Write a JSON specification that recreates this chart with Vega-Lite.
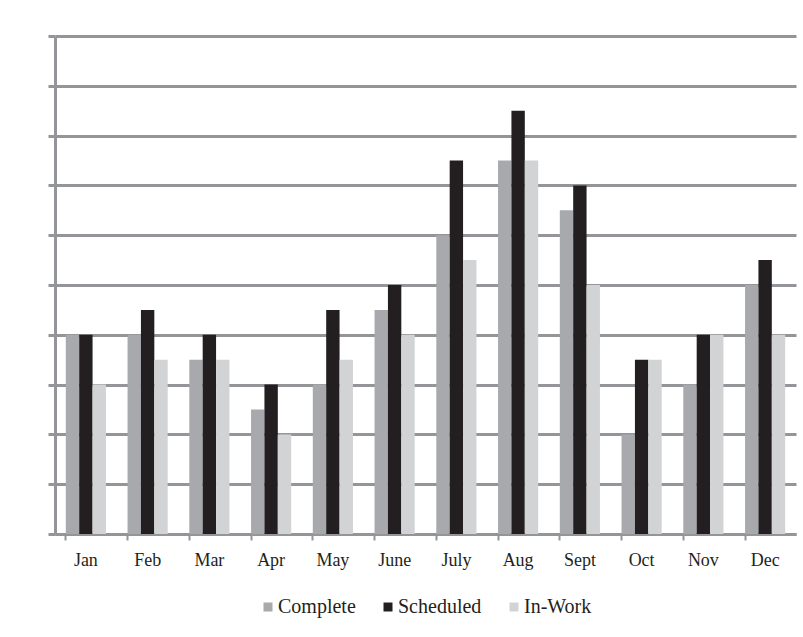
{
  "$schema": "https://vega.github.io/schema/vega-lite/v6.json",
  "width": 741,
  "height": 498,
  "autosize": {"type": "none"},
  "padding": {"left": 55, "top": 36, "right": 7, "bottom": 103},
  "background": "white",
  "data": {
    "values": [
      {"month": "Jan", "series": "Complete", "value": 4},
      {"month": "Jan", "series": "Scheduled", "value": 4},
      {"month": "Jan", "series": "In-Work", "value": 3},
      {"month": "Feb", "series": "Complete", "value": 4},
      {"month": "Feb", "series": "Scheduled", "value": 4.5},
      {"month": "Feb", "series": "In-Work", "value": 3.5},
      {"month": "Mar", "series": "Complete", "value": 3.5},
      {"month": "Mar", "series": "Scheduled", "value": 4},
      {"month": "Mar", "series": "In-Work", "value": 3.5},
      {"month": "Apr", "series": "Complete", "value": 2.5},
      {"month": "Apr", "series": "Scheduled", "value": 3},
      {"month": "Apr", "series": "In-Work", "value": 2},
      {"month": "May", "series": "Complete", "value": 3},
      {"month": "May", "series": "Scheduled", "value": 4.5},
      {"month": "May", "series": "In-Work", "value": 3.5},
      {"month": "June", "series": "Complete", "value": 4.5},
      {"month": "June", "series": "Scheduled", "value": 5},
      {"month": "June", "series": "In-Work", "value": 4},
      {"month": "July", "series": "Complete", "value": 6},
      {"month": "July", "series": "Scheduled", "value": 7.5},
      {"month": "July", "series": "In-Work", "value": 5.5},
      {"month": "Aug", "series": "Complete", "value": 7.5},
      {"month": "Aug", "series": "Scheduled", "value": 8.5},
      {"month": "Aug", "series": "In-Work", "value": 7.5},
      {"month": "Sept", "series": "Complete", "value": 6.5},
      {"month": "Sept", "series": "Scheduled", "value": 7},
      {"month": "Sept", "series": "In-Work", "value": 5},
      {"month": "Oct", "series": "Complete", "value": 2},
      {"month": "Oct", "series": "Scheduled", "value": 3.5},
      {"month": "Oct", "series": "In-Work", "value": 3.5},
      {"month": "Nov", "series": "Complete", "value": 3},
      {"month": "Nov", "series": "Scheduled", "value": 4},
      {"month": "Nov", "series": "In-Work", "value": 4},
      {"month": "Dec", "series": "Complete", "value": 5},
      {"month": "Dec", "series": "Scheduled", "value": 5.5},
      {"month": "Dec", "series": "In-Work", "value": 4}
    ]
  },
  "mark": {"type": "bar"},
  "encoding": {
    "x": {
      "field": "month",
      "type": "nominal",
      "sort": ["Jan","Feb","Mar","Apr","May","June","July","Aug","Sept","Oct","Nov","Dec"],
      "scale": {"paddingInner": 0.35, "paddingOuter": 0.175},
      "axis": {
        "title": null,
        "labelAngle": 0,
        "bandPosition": 0,
        "domainColor": "#939598",
        "domainWidth": 3,
        "tickColor": "#939598",
        "tickWidth": 2,
        "tickSize": 6,
        "labelPadding": 11,
        "labelFont": "Liberation Serif",
        "labelFontSize": 18,
        "labelColor": "#231f20",
        "grid": false
      }
    },
    "xOffset": {
      "field": "series",
      "type": "nominal",
      "sort": ["Complete","Scheduled","In-Work"],
      "scale": {"paddingInner": 0, "paddingOuter": 0}
    },
    "y": {
      "field": "value",
      "type": "quantitative",
      "scale": {"domain": [0, 10], "nice": false},
      "axis": {
        "title": null,
        "labels": false,
        "labelOverlap": false,
        "tickCount": 11,
        "values": [0,1,2,3,4,5,6,7,8,9,10],
        "domainColor": "#939598",
        "domainWidth": 3,
        "tickColor": "#939598",
        "tickWidth": 3,
        "tickSize": 7,
        "grid": true,
        "gridColor": "#939598",
        "gridWidth": 3,
        "gridOpacity": 1
      }
    },
    "color": {
      "field": "series",
      "type": "nominal",
      "sort": ["Complete","Scheduled","In-Work"],
      "scale": {"domain": ["Complete","Scheduled","In-Work"], "range": ["#a7a9ac","#231f20","#d1d3d4"]},
      "legend": {
        "title": null,
        "orient": "none",
        "legendX": 203,
        "legendY": 561,
        "direction": "horizontal",
        "symbolType": "square",
        "symbolSize": 81,
        "symbolStrokeWidth": 0,
        "symbolOpacity": 1,
        "labelFont": "Liberation Serif",
        "labelFontSize": 20,
        "labelColor": "#231f20",
        "labelOffset": 0,
        "columnPadding": 22
      }
    }
  },
  "config": {
    "view": {"stroke": null}
  }
}
